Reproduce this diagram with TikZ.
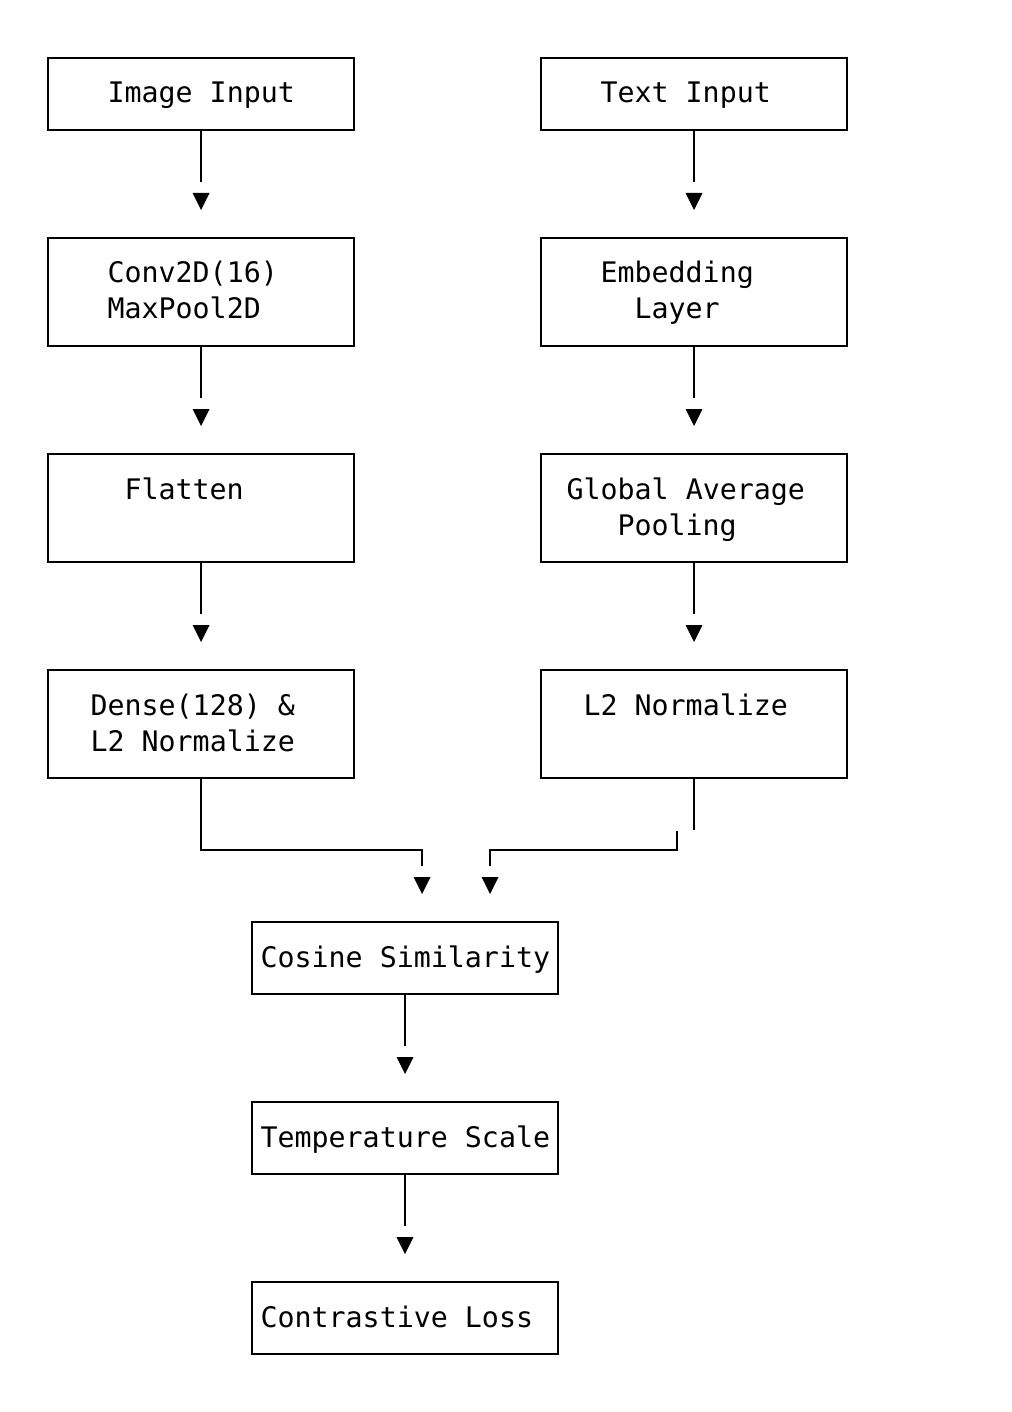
\documentclass[tikz,border=0pt]{standalone}
\usepackage{fontspec}
\setmonofont{DejaVu Sans Mono}
\begin{document}
\begin{tikzpicture}[x=1pt,y=-1pt,
  box/.style={draw, line width=2pt, rectangle, inner sep=0pt, outer sep=0pt, minimum width=306pt, anchor=north west},
  lbl/.style={inner sep=0pt, outer sep=0pt, anchor=base west, font=\ttfamily\fontsize{28.3}{36}\selectfont},
  conn/.style={line width=2pt},
  headtri/.pic={\fill (-8.5,0) -- (8.5,0) -- (0,17) -- cycle;}]
\useasboundingbox (0,0) rectangle (1011,1412);
% boxes
\node[box, minimum height=72pt]  (img)   at (48,58) {};
\node[box, minimum height=72pt]  (txt)   at (541,58) {};
\node[box, minimum height=108pt] (conv)  at (48,238) {};
\node[box, minimum height=108pt] (emb)   at (541,238) {};
\node[box, minimum height=108pt] (flat)  at (48,454) {};
\node[box, minimum height=108pt] (gap)   at (541,454) {};
\node[box, minimum height=108pt] (dense) at (48,670) {};
\node[box, minimum height=108pt] (l2)    at (541,670) {};
\node[box, minimum height=72pt]  (cos)   at (252,922) {};
\node[box, minimum height=72pt]  (temp)  at (252,1102) {};
\node[box, minimum height=72pt]  (loss)  at (252,1282) {};
% labels
\node[lbl] (limg)  at (107.5,103) {Image Input};
\node[lbl] (ltxt)  at (600.5,103) {Text Input};
\node[lbl] (lconvA) at (107.5,283) {Conv2D(16)};
\node[lbl] (lconvB) at (107.5,319) {MaxPool2D};
\node[lbl] (lembA) at (600.5,283) {Embedding};
\node[lbl] (lembB) at (634.5,319) {Layer};
\node[lbl] (lflat) at (124.5,499) {Flatten};
\node[lbl] (lgapA) at (566.5,499) {Global Average};
\node[lbl] (lgapB) at (617.5,535) {Pooling};
\node[lbl] (ldenA) at (90.5,715) {Dense(128) \&};
\node[lbl] (ldenB) at (90.5,751) {L2 Normalize};
\node[lbl] (ll2)   at (583.5,715) {L2 Normalize};
\node[lbl] (lcos)  at (260.5,967) {Cosine Similarity};
\node[lbl] (ltemp) at (260.5,1147) {Temperature Scale};
\node[lbl] (lloss) at (260.5,1327) {Contrastive Loss};
% connectors
\coordinate (e1) at (201,182);
\coordinate (e2) at (694,182);
\coordinate (e3) at (201,398);
\coordinate (e4) at (694,398);
\coordinate (e5) at (201,614);
\coordinate (e6) at (694,614);
\coordinate (e7) at (694,830);
\coordinate (e8) at (405,1046);
\coordinate (e9) at (405,1226);
\draw[conn] (img.south) -- (e1);
\draw[conn] (txt.south) -- (e2);
\draw[conn] (conv.south) -- (e3);
\draw[conn] (emb.south) -- (e4);
\draw[conn] (flat.south) -- (e5);
\draw[conn] (gap.south) -- (e6);
\draw[conn] (dense.south) -- (201,850) -- (422,850) -- (422,866);
\draw[conn] (l2.south) -- (e7);
\draw[conn] (677,831) -- (677,850) -- (490,850) -- (490,866);
\draw[conn] (cos.south) -- (e8);
\draw[conn] (temp.south) -- (e9);
% arrow heads
\pic at (201,193) {headtri};
\pic at (694,193) {headtri};
\pic at (201,409) {headtri};
\pic at (694,409) {headtri};
\pic at (201,625) {headtri};
\pic at (694,625) {headtri};
\pic at (422,877) {headtri};
\pic at (490,877) {headtri};
\pic at (405,1057) {headtri};
\pic at (405,1237) {headtri};
\end{tikzpicture}
\end{document}
